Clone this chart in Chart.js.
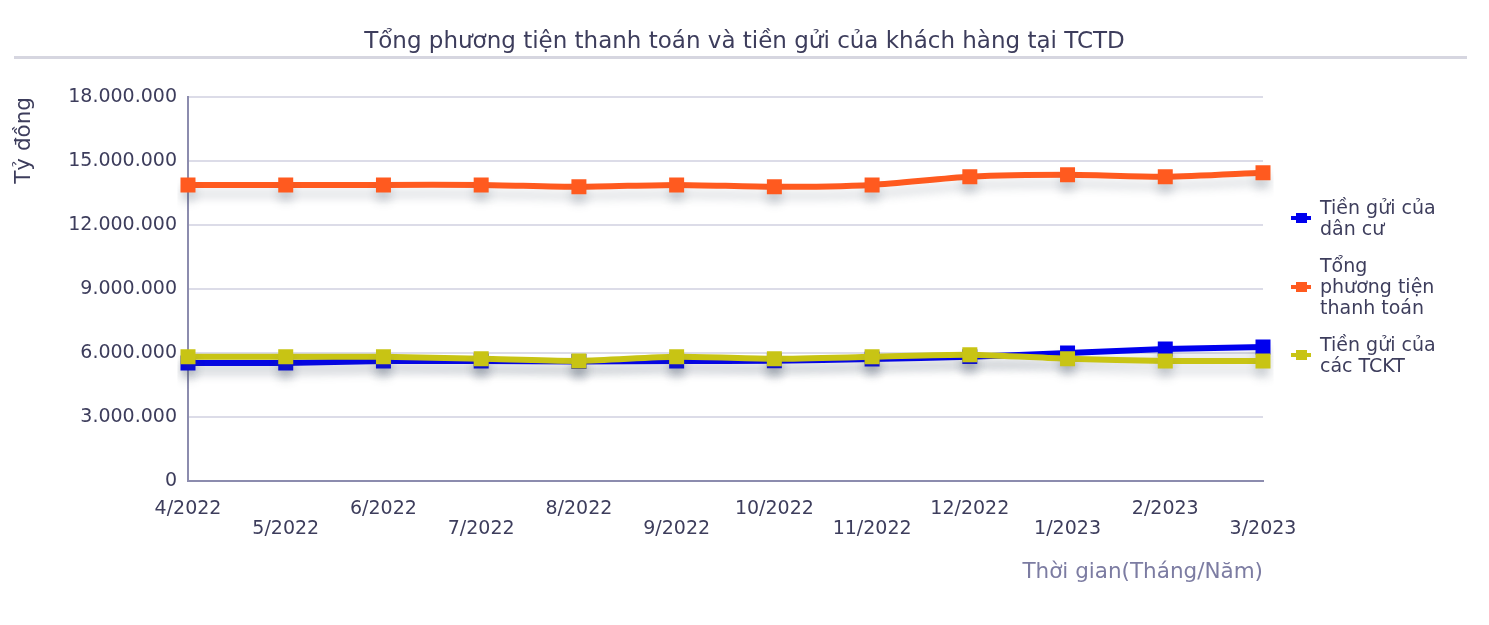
<!DOCTYPE html>
<html lang="vi">
<head>
<meta charset="utf-8">
<title>Tổng phương tiện thanh toán và tiền gửi của khách hàng tại TCTD</title>
<script src="https://cdn.jsdelivr.net/npm/chart.js@4.4.1/dist/chart.umd.min.js"></script>
<style>
    html, body { margin: 0; padding: 0; background: #fff; }
    #wrap { position: relative; width: 1489px; height: 625px; }
    #title {
        position: absolute; left: 0; top: 26px; width: 1489px; text-align: center;
        font-family: "DejaVu Sans", sans-serif; font-size: 23px; line-height: 28px;
        color: #3d3d5c;
    }
    #legend {
        position: absolute; left: 1291px; top: 197px;
        font-family: "DejaVu Sans", sans-serif; font-size: 19px; line-height: 21px;
        color: #3d3d5c;
    }
    .item { display: flex; align-items: center; margin-bottom: 16px; }
    .icon { position: relative; width: 20px; height: 18px; margin-right: 9px; flex: none; }
    .icon .ln { position: absolute; left: 0; top: 7px; width: 20px; height: 4px; }
    .icon .sq { position: absolute; left: 5px; top: 4px; width: 11px; height: 10px; }
    .txt { width: 122px; }
</style>
</head>
<body>
<div id="wrap">
    <canvas id="chart"></canvas>
    <div id="title">Tổng phương tiện thanh toán và tiền gửi của khách hàng tại TCTD</div>
    <div id="legend"></div>
</div>
<script>
const labels = ["4/2022", "5/2022", "6/2022", "7/2022", "8/2022", "9/2022",
    "10/2022", "11/2022", "12/2022", "1/2023", "2/2023", "3/2023"];

// Tỷ đồng
const tienGuiDanCu = [5530000, 5530000, 5620000, 5620000, 5600000, 5620000,
    5640000, 5720000, 5830000, 6000000, 6190000, 6280000];
const tongPTTT = [13880000, 13880000, 13880000, 13880000, 13790000, 13880000,
    13790000, 13880000, 14260000, 14350000, 14260000, 14450000];
const tienGuiTCKT = [5820000, 5820000, 5820000, 5730000, 5630000, 5820000,
    5730000, 5820000, 5920000, 5730000, 5630000, 5630000];

const yTicks = [0, 3000000, 6000000, 9000000, 12000000, 15000000, 18000000];

const seriesNames = ["Tiền gửi của dân cư", "Tổng phương tiện thanh toán", "Tiền gửi của các TCKT"];
const seriesColors = ["#0000ee", "#ff5a1f", "#c8c414"];

const textColor = "#3d3d5c";
const axisColor = "#8c8cae";
const gridColor = "#dcdce8";
const fontFamily = "'DejaVu Sans', sans-serif";

function fmt(v) {
    return String(v).replace(/\B(?=(\d{3})+(?!\d))/g, ".");
}

// shadow under the lines
const shadowPlugin = {
    id: "shadow",
    beforeDatasetDraw(chart) {
        const ctx = chart.ctx;
        ctx.save();
        ctx.shadowColor = "rgba(70, 80, 100, 0.22)";
        ctx.shadowBlur = 10;
        ctx.shadowOffsetY = 9;
    },
    afterDatasetDraw(chart) {
        chart.ctx.restore();
    },
};

// grey rule below the title
const titleRule = {
    id: "titleRule",
    afterDraw(chart) {
        const ctx = chart.ctx;
        ctx.save();
        ctx.strokeStyle = "#d6d6e0";
        ctx.lineWidth = 3;
        ctx.beginPath();
        ctx.moveTo(14, 57.5);
        ctx.lineTo(1467, 57.5);
        ctx.stroke();
        ctx.restore();
    },
};

function makeSet(i, data, order) {
    return {
        label: seriesNames[i],
        data: data,
        borderColor: seriesColors[i],
        backgroundColor: seriesColors[i],
        borderWidth: 6,
        tension: 0.25,
        pointStyle: "rect",
        pointRadius: 10.6,
        pointHoverRadius: 10.6,
        pointBorderWidth: 0,
        order: order,
    };
}

const chart = new Chart(document.getElementById("chart"), {
    type: "line",
    data: {
        labels: labels,
        datasets: [
            makeSet(0, tienGuiDanCu, 2),
            makeSet(1, tongPTTT, 1),
            makeSet(2, tienGuiTCKT, 0),
        ],
    },
    options: {
        responsive: true,
        maintainAspectRatio: false,
        animation: false,
        layout: { padding: { left: 0, right: 226, top: 97, bottom: 40 } },
        plugins: {
            legend: { display: false },
            tooltip: { enabled: false },
            title: { display: false },
        },
        scales: {
            x: {
                offset: false,
                grid: { display: false, drawTicks: false },
                border: { color: axisColor, width: 2 },
                ticks: {
                    autoSkip: false,
                    maxRotation: 0,
                    padding: 18,
                    color: textColor,
                    font: { family: fontFamily, size: 19, lineHeight: 1.05 },
                    callback(value, index) {
                        const l = labels[index];
                        return index % 2 ? ["", l] : l;
                    },
                },
                title: {
                    display: true,
                    text: "Thời gian(Tháng/Năm)",
                    align: "end",
                    color: "#7c7ca2",
                    font: { family: fontFamily, size: 21.5, lineHeight: 1.2 },
                    padding: 0,
                },
                afterFit(scale) { scale.height = 104; },
            },
            y: {
                min: 0,
                max: 18000000,
                grid: { color: gridColor, lineWidth: 2, drawTicks: false },
                border: { color: axisColor, width: 2 },
                afterBuildTicks(scale) {
                    scale.ticks = yTicks.map(v => ({ value: v }));
                },
                ticks: {
                    padding: 11,
                    color: textColor,
                    font: { family: fontFamily, size: 19 },
                    callback: v => fmt(v),
                },
                title: {
                    display: true,
                    text: "Tỷ đồng",
                    align: "end",
                    color: textColor,
                    font: { family: fontFamily, size: 21.5, lineHeight: 1.2 },
                    padding: { top: 12, bottom: 0 },
                },
                afterFit(scale) { scale.width = 188; },
            },
        },
    },
    plugins: [shadowPlugin, titleRule],
});

// html legend
const legend = document.getElementById("legend");
seriesNames.forEach((name, i) => {
    const item = document.createElement("div");
    item.className = "item";
    item.innerHTML = '<div class="icon"><div class="ln"></div><div class="sq"></div></div>' +
        '<div class="txt"></div>';
    item.querySelector(".ln").style.background = seriesColors[i];
    item.querySelector(".sq").style.background = seriesColors[i];
    item.querySelector(".txt").textContent = name;
    legend.appendChild(item);
});
</script>
</body>
</html>
